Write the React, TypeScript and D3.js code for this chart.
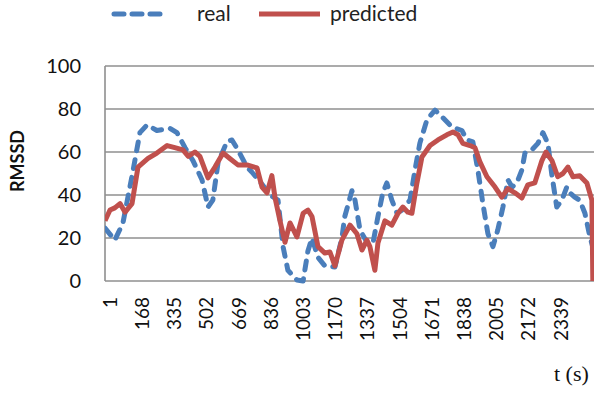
import React from "react";
import * as d3 from "d3";

// RMSSD over time, sampled at the turning points of each trace
const timeReal = [1, 52, 94, 147, 182, 219, 270, 338, 374, 416, 457, 504, 535, 560, 587, 634, 659, 690, 737, 762, 815, 856, 898, 924, 949, 996, 1028, 1053, 1074, 1105, 1141, 1193, 1229, 1244, 1281, 1297, 1323, 1359, 1390, 1416, 1441, 1462, 1488, 1515, 1540, 1582, 1608, 1633, 1670, 1712, 1752, 1800, 1851, 1877, 1908, 1934, 1960, 1986, 2012, 2037, 2064, 2090, 2111, 2136, 2162, 2178, 2214, 2245, 2271, 2297, 2318, 2343, 2369, 2395, 2411, 2436, 2462, 2489, 2515, 2529];
const real = [24.6, 19, 27, 51.6, 69, 72.6, 70, 71, 69, 62, 56, 47, 34.4, 37.6, 55, 65, 65.6, 61, 53, 50.7, 45, 40, 37.6, 16, 5, 0.5, 0, 14, 20, 11, 7, 6.5, 20, 30, 42, 37.6, 23.7, 18, 17.5, 30, 41, 45.6, 37.6, 31.5, 33, 37.6, 51.6, 64, 75, 79.5, 76, 71.6, 70, 65.6, 64.7, 51.6, 36, 22, 16, 23.7, 34.4, 47, 43.7, 45.6, 51.6, 59.5, 61, 64, 69, 64, 49, 34.4, 37.6, 43.7, 41, 39, 37.6, 31.5, 20.5, 16];

const timePredicted = [1, 27, 52, 79, 105, 141, 172, 224, 270, 323, 363, 405, 432, 467, 493, 535, 571, 613, 648, 690, 737, 789, 815, 841, 866, 882, 908, 934, 960, 996, 1028, 1053, 1074, 1105, 1141, 1167, 1193, 1229, 1271, 1307, 1333, 1359, 1374, 1400, 1416, 1452, 1488, 1520, 1545, 1571, 1592, 1618, 1644, 1686, 1727, 1773, 1805, 1831, 1856, 1893, 1919, 1944, 1981, 2023, 2058, 2090, 2126, 2162, 2193, 2229, 2266, 2287, 2318, 2348, 2375, 2401, 2427, 2462, 2499, 2525, 2530];
const predicted = [28, 33, 34, 36, 32, 36, 53, 57, 59.5, 63, 62, 61, 58, 60, 58, 48, 53, 59.5, 57, 54, 54, 52.6, 43.7, 41, 49, 39, 28, 18, 27, 20.5, 31.5, 33, 30, 16, 13, 13.5, 7, 19, 26, 22, 14.4, 19, 16, 5, 17.7, 28, 26, 31.5, 34.4, 32, 31.5, 45.6, 57.7, 63, 65.6, 68, 69.3, 68, 64, 63, 62, 55.5, 48.5, 43.7, 39, 43, 41, 38.6, 44.7, 45.6, 56, 60, 56, 48.5, 50, 53, 48.5, 49, 45.6, 37.6, 0];

const xTickLabels = [1, 168, 335, 502, 669, 836, 1003, 1170, 1337, 1504, 1671, 1838, 2005, 2172, 2339];
const yTickLabels = [0, 20, 40, 60, 80, 100];

const W = 594;
const H = 397;
const left = 105;
const top = 66;
const bottom = 281;

const BLUE = "#4a7ebb";
const RED = "#c0504d";
const GRID = "#8f8f8f";
const FONT = "Lato, 'Open Sans', sans-serif";

export default function App() {
  const x = d3.scaleLinear().domain([1, 2560]).range([left, left + 2559 * 0.1929]);
  const y = d3.scaleLinear().domain([0, 100]).range([bottom, top]);

  const line = d3
    .line<[number, number]>()
    .x((d) => x(d[0]))
    .y((d) => y(d[1]));

  const realPts: [number, number][] = timeReal.map((t, i) => [t, real[i]]);
  const predPts: [number, number][] = timePredicted.map((t, i) => [t, predicted[i]]);

  return (
    <div style={{ position: "absolute", left: 0, top: 0 }}>
      <svg width={W} height={H} style={{ display: "block", background: "#fff" }}>
        <defs>
          <clipPath id="plot">
            <rect x={left} y={0} width={W - left} height={bottom + 6} />
          </clipPath>
        </defs>

        {/* legend */}
        <line x1={114} x2={162} y1={14} y2={14} stroke={BLUE} strokeWidth={5} strokeDasharray="10 8" strokeLinecap="round" />
        <text x={197} y={21} fontFamily={FONT} fontSize={21} fill="#222">real</text>
        <line x1={259} x2={320} y1={14} y2={14} stroke={RED} strokeWidth={5} />
        <text x={330} y={21} fontFamily={FONT} fontSize={21} fill="#222">predicted</text>

        {/* horizontal gridlines */}
        {yTickLabels.map((v) => (
          <line key={v} x1={left} x2={W} y1={y(v)} y2={y(v)} stroke={GRID} strokeWidth={1.6} />
        ))}
        <line x1={left} x2={left} y1={top} y2={bottom} stroke={GRID} strokeWidth={1.6} />

        {/* y axis labels */}
        {yTickLabels.map((v) => (
          <text key={v} x={81} y={y(v)} dy="0.35em" textAnchor="end" fontFamily={FONT} fontSize={20} fill="#111">
            {v}
          </text>
        ))}
        <text
          transform={`translate(24, ${161}) rotate(-90)`}
          textAnchor="middle"
          fontFamily={FONT}
          fontWeight="bold"
          fontSize={18}
          fill="#111"
        >
          RMSSD
        </text>

        {/* x axis labels */}
        {xTickLabels.map((t) => (
          <text
            key={t}
            transform={`translate(${x(t) + 5}, 297) rotate(-90)`}
            textAnchor="end"
            dy="0.35em"
            fontFamily={FONT}
            fontSize={19}
            fill="#111"
          >
            {t}
          </text>
        ))}
        <text x={554} y={381} fontFamily="'Liberation Serif', 'DejaVu Serif', serif" fontSize={22} fill="#111">
          t (s)
        </text>

        {/* series */}
        <g clipPath="url(#plot)">
          <path d={line(realPts) ?? ""} fill="none" stroke={BLUE} strokeWidth={5} strokeDasharray="9 9" strokeLinecap="round" strokeLinejoin="round" />
          <path d={line(predPts) ?? ""} fill="none" stroke={RED} strokeWidth={5} strokeLinejoin="round" />
        </g>
      </svg>
    </div>
  );
}
